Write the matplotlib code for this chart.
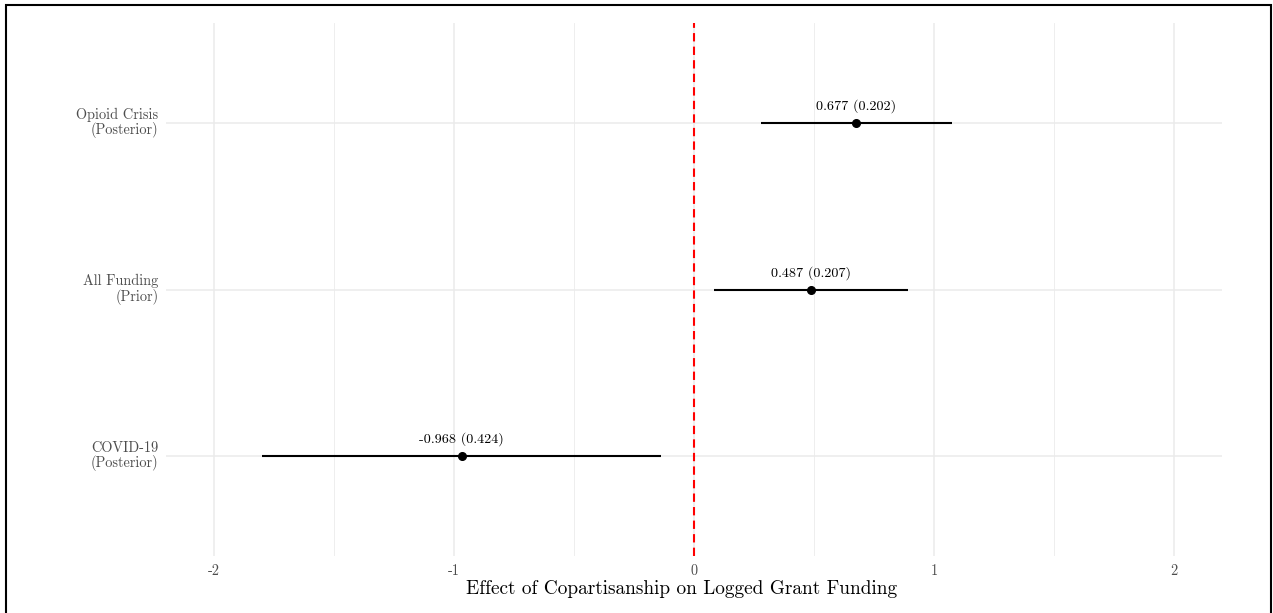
import numpy as np
import matplotlib.pyplot as plt
from matplotlib.patches import Rectangle

# coefficient estimates and standard errors
models = ['COVID-19\n(Posterior)', 'All Funding\n(Prior)', 'Opioid Crisis\n(Posterior)']
estimates = [-0.968, 0.487, 0.677]
std_errors = [0.424, 0.207, 0.202]

plt.rcParams['font.family'] = ['cmr10', 'DejaVu Serif']
plt.rcParams['axes.formatter.use_mathtext'] = True

est = np.array(estimates)
se = np.array(std_errors)
lo = est - 1.96 * se
hi = est + 1.96 * se
ypos = np.arange(1, len(models) + 1)

fig = plt.figure(figsize=(12.73, 6.13), dpi=100)
ax = fig.add_axes([166 / 1273, 1 - 556 / 613, (1222 - 166) / 1273, (556 - 23) / 613])

# grid like ggplot theme_minimal
ax.set_xlim(-2.2, 2.2)
ax.set_ylim(0.4, 3.6)
ax.set_xticks([-2, -1, 0, 1, 2])
ax.set_xticklabels(['-2', '-1', '0', '1', '2'])
ax.set_xticks(np.arange(-1.5, 2, 1.0), minor=True)
ax.set_yticks(ypos)
ax.set_yticklabels(models, ha='right', va='center', linespacing=1.05)
ax.grid(True, which='major', color='#EBEBEB', lw=1.1, zorder=0)
ax.grid(True, which='minor', axis='x', color='#EBEBEB', lw=0.6, zorder=0)
for s in ax.spines.values():
    s.set_visible(False)
ax.tick_params(which='both', length=0, labelcolor='#4D4D4D', labelsize=10.3)
ax.tick_params(axis='x', pad=6)
ax.tick_params(axis='y', pad=5.5)

ax.axvline(0, color='red', ls=(0, (4, 2.5)), lw=1.5, zorder=2)

ax.hlines(ypos, lo, hi, color='black', lw=1.5, zorder=3)
ax.plot(est, ypos, 'o', color='black', ms=5.5, zorder=4)
for x, y, e, s in zip(est, ypos, estimates, std_errors):
    ax.text(x, y + 0.1, f'{e:.3f} ({s:.3f})', ha='center', va='center',
            fontsize=10.2, color='black')

ax.set_xlabel('Effect of Copartisanship on Logged Grant Funding', fontsize=13.9,
              va='center')
ax.xaxis.set_label_coords(0.488, -0.062, transform=ax.transAxes)

fig.patches.append(Rectangle((6 / 1273, -0.01), (1271 - 6) / 1273, 1 - 5 / 613 + 0.01,
                             transform=fig.transFigure, fill=False,
                             edgecolor='black', lw=1.5))

fig.savefig('out.png', dpi=100)
